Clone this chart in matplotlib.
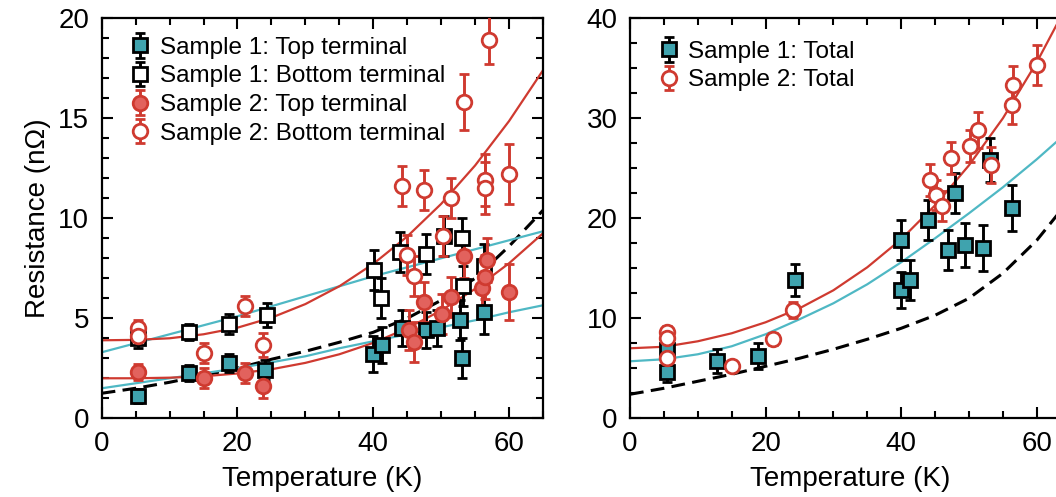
"""
Resistance vs temperature for two samples: per-terminal (left) and total (right).
"""

import matplotlib
matplotlib.use("Agg")
import matplotlib.pyplot as plt
import matplotlib.ticker as mticker

# ---------------------------------------------------------------------------
# Data
# ---------------------------------------------------------------------------

# left panel: per terminal
T1_TOP = [5.4, 12.8, 18.7, 24.1, 40.0, 41.3, 44.2, 47.7, 49.4, 52.8, 53.1, 56.3]
R1_TOP = [1.1, 2.25, 2.75, 2.4, 3.2, 3.65, 4.5, 4.4, 4.5, 4.9, 3.0, 5.3]
E1_TOP = [0.35, 0.4, 0.45, 0.5, 0.9, 0.9, 0.9, 0.9, 0.9, 1.0, 1.0, 1.1]

T1_BOT = [5.4, 12.8, 18.7, 24.3, 40.1, 41.2, 43.9, 47.7, 50.4, 53.1, 53.2, 56.3]
R1_BOT = [4.0, 4.3, 4.7, 5.15, 7.4, 6.0, 8.3, 8.2, 9.1, 9.0, 6.6, 7.6]
E1_BOT = [0.5, 0.4, 0.5, 0.6, 1.0, 1.0, 1.0, 1.0, 1.0, 1.0, 1.0, 1.1]

T2_TOP = [5.4, 15.0, 21.1, 23.8, 45.2, 46.0, 47.4, 50.1, 51.4, 53.4, 56.0, 56.5, 56.8, 60.0]
R2_TOP = [2.3, 2.0, 2.25, 1.6, 4.4, 3.8, 5.8, 5.2, 6.05, 8.1, 6.5, 7.05, 7.9, 6.3]
E2_TOP = [0.4, 0.5, 0.5, 0.6, 1.0, 1.0, 1.0, 1.0, 1.0, 1.1, 1.1, 1.1, 1.1, 1.4]

T2_BOT = [5.4, 5.4, 15.0, 21.1, 23.8, 44.2, 45.0, 46.0, 47.4, 50.3, 51.4, 53.3, 56.5, 56.5, 57.0, 60.0]
R2_BOT = [4.5, 4.1, 3.25, 5.6, 3.65, 11.6, 8.15, 7.1, 11.4, 9.1, 11.0, 15.8, 11.9, 11.5, 18.9, 12.2]
E2_BOT = [0.4, 0.4, 0.5, 0.5, 0.6, 1.0, 1.0, 1.0, 1.0, 1.0, 1.0, 1.4, 1.3, 1.3, 1.2, 1.5]

# right panel: totals
T1_TOT = [5.4, 5.4, 12.8, 18.9, 24.3, 40.0, 40.0, 41.3, 44.0, 46.9, 47.9, 49.4, 52.1, 53.1, 56.3]
R1_TOT = [4.6, 6.8, 5.7, 6.2, 13.8, 17.8, 12.8, 13.8, 19.8, 16.8, 22.5, 17.3, 17.0, 25.8, 21.0]
E1_TOT = [1.0, 1.0, 1.2, 1.3, 1.6, 2.0, 1.8, 2.0, 2.0, 2.0, 2.0, 2.2, 2.3, 2.2, 2.3]

T2_TOT = [5.4, 5.4, 5.4, 15.0, 21.1, 24.1, 44.2, 45.2, 46.0, 47.4, 50.1, 51.4, 53.3, 56.3, 56.5, 60.0]
R2_TOT = [8.6, 8.0, 6.0, 5.2, 7.9, 10.8, 23.8, 22.3, 21.2, 26.0, 27.2, 28.8, 25.3, 31.3, 33.3, 35.3]
E2_TOT = [0.6, 0.6, 0.5, 0.5, 0.6, 0.8, 1.6, 1.5, 1.5, 1.6, 1.6, 1.8, 1.8, 1.9, 1.9, 2.0]

# fit / model curves, sampled every 5 K
FIT_T = [0, 5, 10, 15, 20, 25, 30, 35, 40, 45, 50, 55, 60, 65]
FIT_L_RED_HI  = [3.9, 3.92, 4.0, 4.2, 4.53, 5.03, 5.71, 6.6, 7.72, 9.09, 10.72, 12.64, 14.86, 17.4]
FIT_L_RED_LO  = [2.0, 2.0, 2.03, 2.1, 2.24, 2.45, 2.77, 3.2, 3.77, 4.5, 5.39, 6.47, 7.75, 9.25]
FIT_L_TEAL_HI = [3.3, 3.75, 4.2, 4.65, 5.1, 5.6, 6.1, 6.6, 7.1, 7.55, 8.0, 8.45, 8.9, 9.35]
FIT_L_TEAL_LO = [1.5, 1.75, 2.0, 2.25, 2.5, 2.8, 3.1, 3.5, 3.85, 4.2, 4.55, 4.9, 5.3, 5.65]
FIT_L_DASH    = [1.25, 1.5, 1.8, 2.15, 2.5, 2.95, 3.35, 3.8, 4.3, 5.0, 5.9, 7.0, 8.6, 10.4]

FIT_R_RED  = [7.0, 7.15, 7.7, 8.5, 9.6, 11.0, 12.8, 15.1, 17.9, 21.3, 25.3, 30.0, 35.6, 42.0]
FIT_R_TEAL = [5.7, 5.9, 6.4, 7.2, 8.4, 9.9, 11.5, 13.4, 15.6, 18.0, 20.5, 23.1, 25.9, 28.9]
FIT_R_DASH = [2.4, 3.0, 3.7, 4.4, 5.2, 6.0, 6.9, 7.9, 9.0, 10.3, 12.0, 14.5, 17.8, 22.0]

# ---------------------------------------------------------------------------
# Style
# ---------------------------------------------------------------------------

TEAL_FACE = "#3fa3ae"
TEAL_LINE = "#4fb8c4"
RED_LINE  = "#cf3a30"
RED_FACE  = "#e2625d"
DASHES    = (0, (4.5, 2.4))

plt.rcParams["font.family"] = ["Liberation Sans", "DejaVu Sans"]


def _errbar(ax, t, r, e, marker, face, edge, label, ecolor):
    return ax.errorbar(
        t, r, yerr=e, fmt=marker, ms=10.5, mfc=face, mec=edge, mew=2.0,
        ecolor=ecolor, elinewidth=2.1, capsize=3.6, capthick=2.1,
        label=label, zorder=3,
    )


def _style_axes(ax, ymax, ymajor, yminor):
    ax.set_xlim(0, 65)
    ax.set_ylim(0, ymax)
    ax.xaxis.set_major_locator(mticker.MultipleLocator(20))
    ax.xaxis.set_minor_locator(mticker.MultipleLocator(5))
    ax.yaxis.set_major_locator(mticker.MultipleLocator(ymajor))
    ax.yaxis.set_minor_locator(mticker.MultipleLocator(yminor))
    ax.tick_params(which="both", direction="in", top=True, right=True,
                   width=1.5, labelsize=20, colors="black")
    ax.tick_params(which="major", length=8, pad=9)
    ax.tick_params(which="minor", length=5)
    for sp in ax.spines.values():
        sp.set_linewidth(1.6)
    ax.set_xlabel("Temperature (K)", fontsize=20, labelpad=7)


def _legend(ax, handles, top):
    ax.legend(handles=handles, loc="upper left", bbox_to_anchor=(0.035, top),
              frameon=False, fontsize=17.5, handlelength=0.7, handletextpad=0.45,
              labelspacing=0.27, borderaxespad=0.2)


fig = plt.figure(figsize=(10.56, 4.97), dpi=100)
ax1 = fig.add_axes([0.0963, 0.1584, 0.4179, 0.8048])
ax2 = fig.add_axes([0.5966, 0.1584, 0.4173, 0.8048])

# ---- left panel ----
ax1.plot(FIT_T, FIT_L_DASH, color="black", lw=2.2, ls=DASHES, zorder=2)
ax1.plot(FIT_T, FIT_L_TEAL_HI, color=TEAL_LINE, lw=1.6, zorder=2)
ax1.plot(FIT_T, FIT_L_TEAL_LO, color=TEAL_LINE, lw=1.6, zorder=2)
ax1.plot(FIT_T, FIT_L_RED_HI, color=RED_LINE, lw=1.6, zorder=2)
ax1.plot(FIT_T, FIT_L_RED_LO, color=RED_LINE, lw=1.6, zorder=2)

h1 = _errbar(ax1, T1_TOP, R1_TOP, E1_TOP, "s", TEAL_FACE, "black", "Sample 1: Top terminal", "black")
h2 = _errbar(ax1, T1_BOT, R1_BOT, E1_BOT, "s", "white", "black", "Sample 1: Bottom terminal", "black")
h3 = _errbar(ax1, T2_TOP, R2_TOP, E2_TOP, "o", RED_FACE, RED_LINE, "Sample 2: Top terminal", RED_LINE)
h4 = _errbar(ax1, T2_BOT, R2_BOT, E2_BOT, "o", "white", RED_LINE, "Sample 2: Bottom terminal", RED_LINE)

_style_axes(ax1, 20, 5, 1)
ax1.set_ylabel("Resistance (n\u03a9)", fontsize=20, labelpad=5)
_legend(ax1, [h1, h2, h3, h4], 0.99)

# ---- right panel ----
ax2.plot(FIT_T, FIT_R_DASH, color="black", lw=2.2, ls=DASHES, zorder=2)
ax2.plot(FIT_T, FIT_R_TEAL, color=TEAL_LINE, lw=1.6, zorder=2)
ax2.plot(FIT_T, FIT_R_RED, color=RED_LINE, lw=1.6, zorder=2)

g1 = _errbar(ax2, T1_TOT, R1_TOT, E1_TOT, "s", TEAL_FACE, "black", "Sample 1: Total", "black")
g2 = _errbar(ax2, T2_TOT, R2_TOT, E2_TOT, "o", "white", RED_LINE, "Sample 2: Total", RED_LINE)

_style_axes(ax2, 40, 10, 2.5)
_legend(ax2, [g1, g2], 0.98)

fig.savefig("out.png", dpi=100)
